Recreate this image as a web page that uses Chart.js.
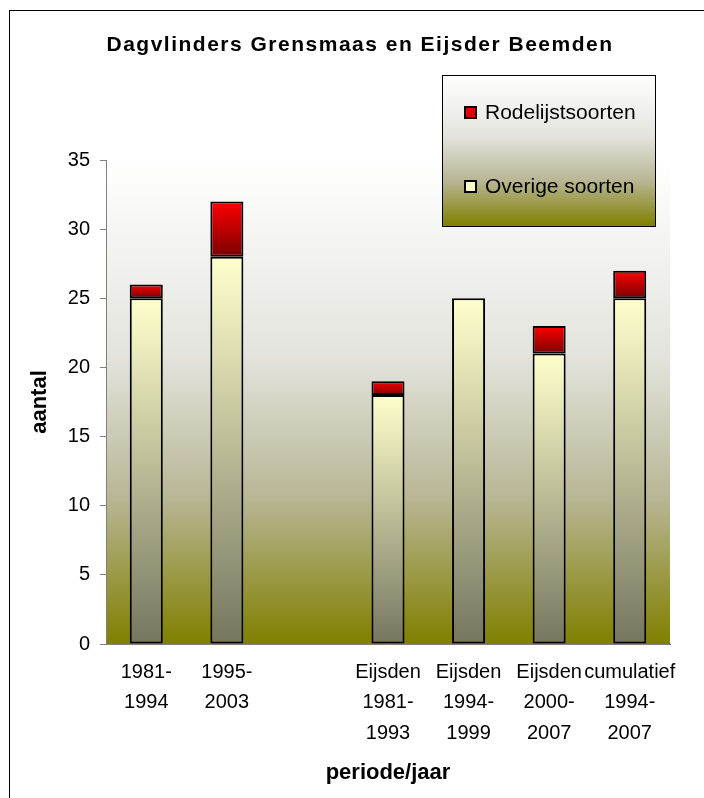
<!DOCTYPE html>
<html>
<head>
<meta charset="utf-8">
<script src="https://cdn.jsdelivr.net/npm/chart.js@4"></script>
<style>
  html, body { margin: 0; padding: 0; background: #fff; }
  #wrap { width: 704px; height: 798px; }
</style>
</head>
<body>
<div id="wrap"><canvas id="c"></canvas></div>
<script>
const TITLE = 'Dagvlinders Grensmaas en Eijsder Beemden';
const categories = [
  ['1981-', '1994'],
  ['1995-', '2003'],
  '',
  ['Eijsden', '1981-', '1993'],
  ['Eijsden', '1994-', '1999'],
  ['Eijsden', '2000-', '2007'],
  ['cumulatief', '1994-', '2007'],
];
const overige = [25, 28, null, 18, 25, 21, 25];
const rodelijst = [1, 4, null, 1, 0, 2, 2];
const yTicks = { min: 0, max: 35, step: 5 };

const FONT = "'Liberation Sans', Arial, sans-serif";

function bgGradient(ctx, top, bottom) {
    const g = ctx.createLinearGradient(0, top, 0, bottom);
    g.addColorStop(0, '#ffffff');
    g.addColorStop(0.4, '#e4e4de');
    g.addColorStop(0.7, '#b8b694');
    g.addColorStop(1, '#808000');
    return g;
}

// per-bar gradient, computed from the value scale
function barFill(top, bottom) {
    return (c) => {
        const chart = c.chart;
        if (!chart.chartArea) return top;
        const i = c.dataIndex;
        const base = c.datasetIndex === 0 ? 0 : (overige[i] || 0);
        const v = c.raw || 0;
        const y = chart.scales.y;
        const g = chart.ctx.createLinearGradient(0, y.getPixelForValue(base + v), 0, y.getPixelForValue(base));
        g.addColorStop(0, top);
        g.addColorStop(1, bottom);
        return g;
    };
}

const decor = {
    id: 'decor',
    beforeDraw(chart) {
        const { ctx, chartArea: a } = chart;
        ctx.save();
        ctx.fillStyle = bgGradient(ctx, a.top, a.bottom);
        ctx.fillRect(a.left, a.top, a.right - a.left, a.bottom - a.top);
        ctx.strokeStyle = '#000';
        ctx.lineWidth = 1;
        ctx.strokeRect(9.5, 10.5, 800, 900);
        ctx.restore();
    },
    afterDraw(chart) {
        const { ctx } = chart;
        ctx.save();
        ctx.fillStyle = '#000';
        ctx.font = `bold 21px ${FONT}`;
        ctx.letterSpacing = '1.5px';
        ctx.textAlign = 'center';
        ctx.textBaseline = 'middle';
        ctx.fillText(TITLE, 360, 45);
        ctx.letterSpacing = '0px';

        // legend box
        const lx = 442, ly = 75, lw = 213, lh = 151;
        ctx.fillStyle = bgGradient(ctx, ly, ly + lh);
        ctx.fillRect(lx, ly, lw, lh);
        ctx.strokeStyle = '#000';
        ctx.lineWidth = 1;
        ctx.strokeRect(lx + 0.5, ly + 0.5, lw, lh);

        const items = [
            { label: chart.data.datasets[1].label, fill: '#e00000', y: 112 },
            { label: chart.data.datasets[0].label, fill: '#ffffcc', y: 186 },
        ];
        ctx.font = `21px ${FONT}`;
        ctx.textAlign = 'left';
        items.forEach(it => {
            ctx.fillStyle = it.fill;
            ctx.fillRect(465, it.y - 5, 11, 11);
            ctx.lineWidth = 2;
            ctx.strokeStyle = '#000';
            ctx.strokeRect(465, it.y - 5, 11, 11);
            ctx.fillStyle = '#000';
            ctx.fillText(it.label, 485, it.y + 1);
        });
        ctx.restore();
    },
};

new Chart(document.getElementById('c'), {
    type: 'bar',
    data: {
        labels: categories,
        datasets: [
            {
                label: 'Overige soorten',
                data: overige,
                backgroundColor: barFill('#ffffcc', '#767660'),
                borderColor: '#000',
                borderWidth: 2,
                borderSkipped: false,
            },
            {
                label: 'Rodelijstsoorten',
                data: rodelijst,
                backgroundColor: barFill('#ff0000', '#7a0000'),
                borderColor: '#000',
                borderWidth: 2,
                borderSkipped: false,
            },
        ],
    },
    options: {
        responsive: true,
        maintainAspectRatio: false,
        animation: false,
        categoryPercentage: 1,
        barPercentage: 0.41,
        layout: { padding: { top: 160, left: 10, right: 34, bottom: 0 } },
        plugins: {
            legend: { display: false },
            title: { display: false },
            tooltip: { enabled: false },
        },
        scales: {
            x: {
                stacked: true,
                grid: { display: false },
                border: { color: '#808080' },
                ticks: {
                    color: '#000',
                    padding: 5,
                    maxRotation: 0,
                    autoSkip: false,
                    font: { family: FONT, size: 20, lineHeight: 1.52 },
                },
                title: {
                    display: true,
                    text: 'periode/jaar',
                    color: '#000',
                    font: { family: FONT, size: 22, weight: 'bold' },
                    padding: { top: 0, bottom: 12 },
                },
                afterFit: s => { s.height = 154; },
            },
            y: {
                stacked: true,
                min: yTicks.min,
                max: yTicks.max,
                grid: { drawOnChartArea: false, drawTicks: true, tickLength: 6, color: '#808080' },
                border: { color: '#808080' },
                ticks: {
                    stepSize: yTicks.step,
                    color: '#000',
                    padding: 10,
                    font: { family: FONT, size: 20 },
                },
                title: {
                    display: true,
                    text: 'aantal',
                    color: '#000',
                    font: { family: FONT, size: 22, weight: 'bold' },
                    padding: { top: 17, bottom: 0 },
                },
                afterFit: s => { s.width = 96; },
            },
        },
    },
    plugins: [decor],
});
</script>
</body>
</html>
